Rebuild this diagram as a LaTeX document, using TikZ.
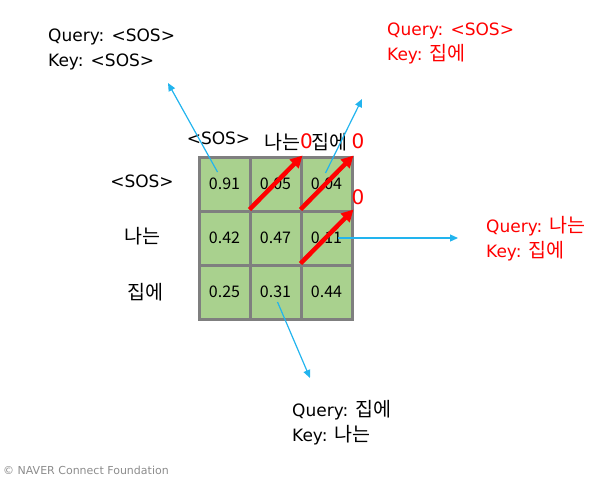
\documentclass[tikz,border=0pt]{standalone}
\usepackage{fontspec}
\usepackage{xcolor}
\usepackage{tikz}
\usetikzlibrary{arrows.meta,calc,positioning}
\setmainfont{DejaVu Sans}
\newfontfamily\kr[Scale=1.15]{Noto Sans CJK KR}
\newfontfamily\numfont{Noto Sans CJK KR}
\definecolor{cellGreen}{HTML}{A9D18E}
\definecolor{gridGray}{HTML}{7F7F7F}
\definecolor{arrowBlue}{HTML}{22B4EE}
\definecolor{footGray}{HTML}{8C8C8C}
\begin{document}
\begin{tikzpicture}[x=1pt,y=-1pt,
  cellBox/.style={draw=gridGray, line width=3pt, fill=cellGreen, minimum width=51pt, minimum height=54pt, inner sep=0pt, font=\numfont\fontsize{16}{18}\selectfont},
  headLabel/.style={font=\fontsize{17}{20}\selectfont, inner sep=0pt, anchor=base},
  zeroMark/.style={text=red, font=\fontsize{20}{24}\selectfont, inner sep=0pt, anchor=base},
  infoText/.style={font=\fontsize{17}{25}\selectfont, align=left, inner sep=0pt, anchor=base west},
  redArrow/.style={red, line width=4.5pt, -{Triangle[length=12pt,width=12pt]}},
  blueArrow/.style={arrowBlue, line width=1.2pt, -{Triangle[length=8pt,width=7pt]}}]

\useasboundingbox (0,0) rectangle (607,485);

% attention scores
\foreach \r/\c/\v in {1/1/0.91, 1/2/0.05, 1/3/0.04, 2/1/0.42, 2/2/0.47, 2/3/0.11, 3/1/0.25, 3/2/0.31, 3/3/0.44}
  \node[cellBox] (c\r\c) at ({199+51*(\c-0.5)},{157+54*(\r-0.5)}) {\v};

% keys on top, queries on the left
\node[headLabel] (hSOS) at (218.5,144) {<SOS>};
\node[headLabel] (hNa) at (282,149) {\kr 나는};
\node[headLabel] (hJip) at (329,149) {\kr 집에};
\node[headLabel] (rSOS) at (142,187) {<SOS>};
\node[headLabel] (rNa) at (142,243) {\kr 나는};
\node[headLabel] (rJip) at (145,299) {\kr 집에};

%masked entries
\draw[redArrow] ($(c12.south west)+(1,-3)$) -- (c12.north east);
\draw[redArrow] ($(c13.south west)+(1,-3)$) -- (c13.north east);
\draw[redArrow] ($(c23.south west)+(1,-3)$) -- (c23.north east);
\node[zeroMark] (z12) at (306.5,148.5) {0};
\node[zeroMark] (z13) at (358,148.5) {0};
\node[zeroMark] (z23) at (358,204) {0};

% what each score means
\node[infoText] (qSOS) at (48,66.5) {Query: <SOS>\\Key: <SOS>};
\node[infoText, text=red] (qSOSJip) at (387,60.5) {Query: <SOS>\\Key: {\kr 집에}};
\node[infoText, text=red] (qNaJip) at (486,257.5) {Query: {\kr 나는}\\Key: {\kr 집에}};
\node[infoText] (qJipNa) at (292,441.5) {Query: {\kr 집에}\\Key: {\kr 나는}};

\coordinate (tSOS) at (168,83);
\coordinate (tSOSJip) at (362,99);
\coordinate (tNaJip) at (458,238);
\coordinate (tJipNa) at (310,378);
\draw[blueArrow] ($(c11)+(-7,-12)$) -- (tSOS);
\draw[blueArrow] ($(c13)+(-1,-11)$) -- (tSOSJip);
\draw[blueArrow] ($(c23)+(11.5,0)$) -- (tNaJip);
\draw[blueArrow] ($(c32)+(2,10)$) -- (tJipNa);

\node[font=\fontsize{11}{13}\selectfont, text=footGray, anchor=base west, inner sep=0pt] (credit) at (3,474.5) {© NAVER Connect Foundation};

\end{tikzpicture}
\end{document}
